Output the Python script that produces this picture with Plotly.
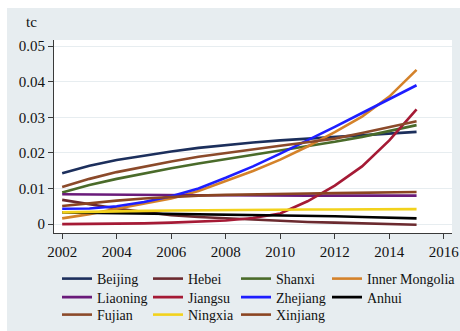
import plotly.graph_objects as go

# Figure geometry (pixels)
W, H = 460, 331
ML, MR, MT, MB = 54, 8, 40, 98
PW, PH = W - ML - MR, H - MT - MB


def px_x(px):
    return (px - ML) / PW


def px_y(py):
    return 1 - (py - MT) / PH


years = list(range(2002, 2016))

beijing = [0.0143, 0.0164, 0.0180, 0.0193, 0.0204, 0.0214, 0.0222, 0.0229, 0.0235, 0.0240, 0.0245, 0.0250, 0.0255, 0.0259]
hebei = [0.0068, 0.0055, 0.0044, 0.0034, 0.0025, 0.0020, 0.0016, 0.0012, 0.0009, 0.0006, 0.0004, 0.0002, 0.0000, -0.0002]
shanxi = [0.0089, 0.0110, 0.0127, 0.0143, 0.0157, 0.0170, 0.0182, 0.0194, 0.0206, 0.0218, 0.0231, 0.0245, 0.0261, 0.0278]
inner_mongolia = [0.0016, 0.0028, 0.0043, 0.0057, 0.0072, 0.0093, 0.0120, 0.0149, 0.0181, 0.0218, 0.0258, 0.0302, 0.0358, 0.0433]
liaoning = [0.0084, 0.0083, 0.0082, 0.0082, 0.0081, 0.0081, 0.0081, 0.0080, 0.0080, 0.0080, 0.0080, 0.0080, 0.0080, 0.0080]
jiangsu = [0.0000, 0.0000, 0.0001, 0.0002, 0.0004, 0.0006, 0.0010, 0.0017, 0.0030, 0.0064, 0.0108, 0.0162, 0.0235, 0.0322]
zhejiang = [0.0043, 0.0044, 0.0050, 0.0062, 0.0078, 0.0100, 0.0130, 0.0162, 0.0198, 0.0235, 0.0273, 0.0312, 0.0351, 0.0390]
anhui = [0.0033, 0.0032, 0.0031, 0.0030, 0.0028, 0.0027, 0.0026, 0.0025, 0.0024, 0.0023, 0.0022, 0.0020, 0.0018, 0.0016]
fujian = [0.0104, 0.0127, 0.0146, 0.0162, 0.0176, 0.0189, 0.0200, 0.0210, 0.0220, 0.0230, 0.0240, 0.0256, 0.0272, 0.0289]
ningxia = [0.0033, 0.0035, 0.0036, 0.0037, 0.0038, 0.0039, 0.0040, 0.0040, 0.0041, 0.0041, 0.0041, 0.0042, 0.0042, 0.0042]
xinjiang = [0.0051, 0.0059, 0.0066, 0.0072, 0.0077, 0.0080, 0.0082, 0.0084, 0.0085, 0.0086, 0.0087, 0.0088, 0.0089, 0.0090]

series = [
    ("Beijing", beijing, "#1c2f5c"),
    ("Hebei", hebei, "#6b2a2f"),
    ("Shanxi", shanxi, "#4a6b2a"),
    ("Inner Mongolia", inner_mongolia, "#d4822a"),
    ("Liaoning", liaoning, "#6a1b7a"),
    ("Jiangsu", jiangsu, "#a51a35"),
    ("Zhejiang", zhejiang, "#1e1eff"),
    ("Anhui", anhui, "#000000"),
    ("Fujian", fujian, "#8b4a2a"),
    ("Ningxia", ningxia, "#f2d21c"),
    ("Xinjiang", xinjiang, "#8b4522"),
]

x_ticks = [2002, 2004, 2006, 2008, 2010, 2012, 2014, 2016]
y_ticks = [0, 0.01, 0.02, 0.03, 0.04, 0.05]
y_ticklabels = ["0", "0.01", "0.02", "0.03", "0.04", "0.05"]

BG = "#e7edf0"
AXIS = "#3a3a3a"
FONT = "Liberation Serif"
TEXT = "#111111"

# Key: a 4-column grid filled row by row, one small legend per entry
N_COLS = 4
legend_cols_px = [57, 148, 236, 327]
legend_rows_px = [263, 281.5, 299]

fig = go.Figure()
legend_layout = {}
for i, (name, vals, color) in enumerate(series):
    lid = "legend" if i == 0 else f"legend{i + 1}"
    fig.add_trace(go.Scatter(
        x=years, y=vals, name=name, mode="lines",
        line=dict(color=color, width=2.6),
        legend=lid,
    ))
    row, col = divmod(i, N_COLS)
    legend_layout[lid] = dict(
        orientation="v",
        x=px_x(legend_cols_px[col]), y=px_y(legend_rows_px[row]),
        xanchor="left", yanchor="top",
        bgcolor="rgba(0,0,0,0)",
        font=dict(family=FONT, size=14, color=TEXT),
        itemwidth=30,
        tracegroupgap=0,
    )

fig.update_layout(
    width=W, height=H,
    margin=dict(l=ML, r=MR, t=MT, b=MB, pad=0, autoexpand=False),
    paper_bgcolor=BG,
    plot_bgcolor="white",
    font=dict(family=FONT, size=15, color=TEXT),
    showlegend=True,
    **legend_layout,
    xaxis=dict(
        range=[2001.7, 2016.3],
        tickvals=x_ticks,
        ticktext=[str(v) for v in x_ticks],
        ticks="outside", ticklen=5, tickwidth=1, tickcolor=AXIS,
        showline=True, linecolor=AXIS, linewidth=1,
        showgrid=False, zeroline=False,
        tickfont=dict(family=FONT, size=15, color=TEXT),
    ),
    yaxis=dict(
        range=[-0.0025, 0.0517],
        tickvals=y_ticks,
        ticktext=y_ticklabels,
        ticks="outside", ticklen=5, tickwidth=1, tickcolor=AXIS,
        showline=True, linecolor=AXIS, linewidth=1,
        showgrid=True, gridcolor=BG, gridwidth=1,
        zeroline=False,
        tickfont=dict(family=FONT, size=15, color=TEXT),
    ),
    shapes=[
        # white margins around the shaded outer region
        dict(type="rect", xref="paper", yref="paper",
             x0=px_x(0), x1=px_x(W), y0=px_y(0), y1=px_y(8),
             fillcolor="white", line=dict(width=0), layer="below"),
        dict(type="rect", xref="paper", yref="paper",
             x0=px_x(0), x1=px_x(7), y0=px_y(0), y1=px_y(H),
             fillcolor="white", line=dict(width=0), layer="below"),
    ],
    annotations=[
        dict(text="tc", xref="paper", yref="paper",
             x=px_x(24), y=px_y(22), xanchor="left", yanchor="middle",
             showarrow=False, font=dict(family=FONT, size=15, color=TEXT)),
    ],
)

fig.write_html("out.html")
